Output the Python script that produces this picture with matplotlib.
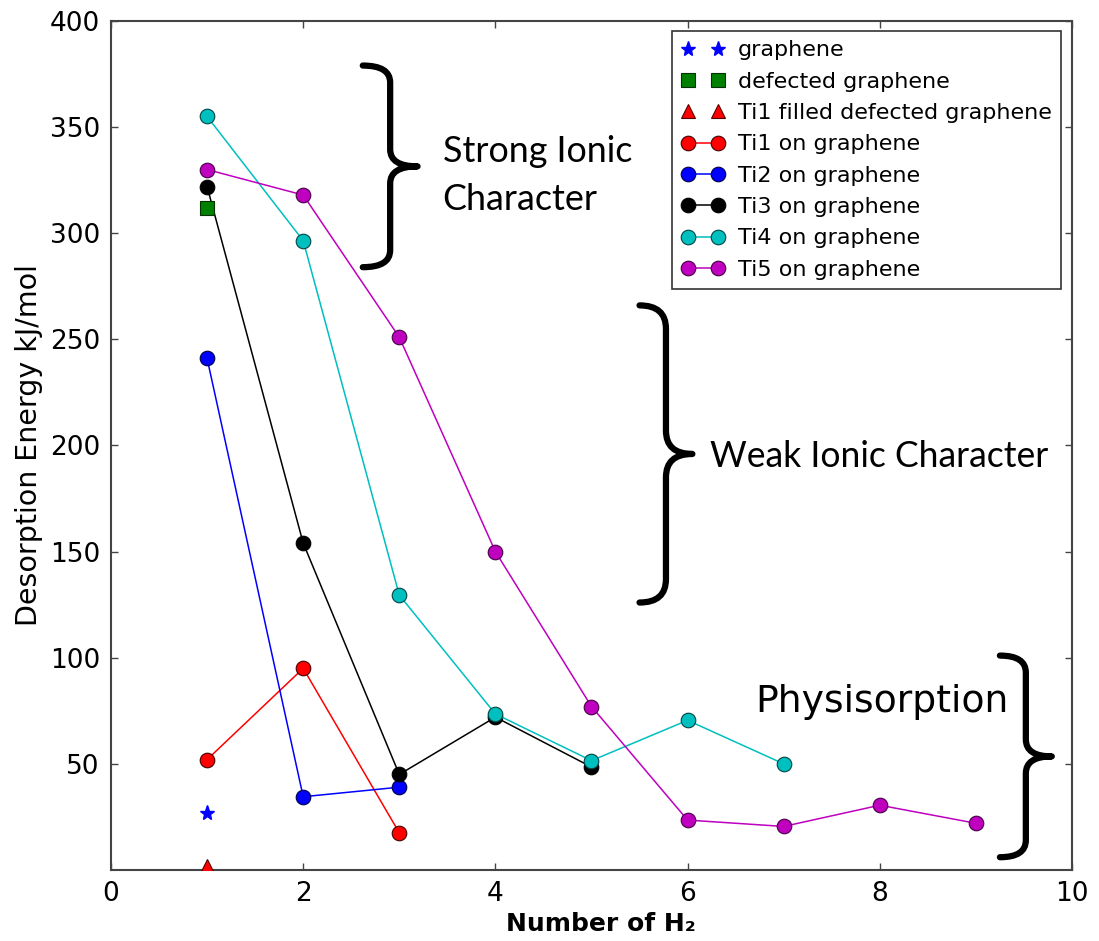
import numpy as np
import matplotlib.pyplot as plt
from matplotlib.path import Path
from matplotlib.patches import PathPatch

# data
n_h2_ti1 = [1, 2, 3]
e_ti1 = [52, 95, 17.5]
n_h2_ti2 = [1, 2, 3]
e_ti2 = [241, 34.5, 39]
n_h2_ti3 = [1, 2, 3, 4, 5]
e_ti3 = [322, 154, 45, 72, 48.5]
n_h2_ti4 = [1, 2, 3, 4, 5, 6, 7]
e_ti4 = [355, 296.5, 129.5, 73.5, 51.5, 70.5, 50]
n_h2_ti5 = [1, 2, 3, 4, 5, 6, 7, 8, 9]
e_ti5 = [330, 318, 251, 150, 77, 23.5, 20.5, 30.5, 22]

x_graphene = [1]
e_graphene = [27]
x_defected = [1]
e_defected = [312]
x_ti1_filled = [1]
e_ti1_filled = [2]


def brace(ax, x0, x1, y0, y1, r):
    # curly brace opening to the left, tip at x1
    xm = (x0 + x1) / 2.0
    ym = (y0 + y1) / 2.0
    verts = [(x0, y1), (xm, y1), (xm, y1 - r),
             (xm, ym + r),
             (xm, ym), (x1, ym),
             (xm, ym), (xm, ym - r),
             (xm, y0 + r),
             (xm, y0), (x0, y0)]
    codes = [Path.MOVETO, Path.CURVE3, Path.CURVE3,
             Path.LINETO,
             Path.CURVE3, Path.CURVE3,
             Path.CURVE3, Path.CURVE3,
             Path.LINETO,
             Path.CURVE3, Path.CURVE3]
    p = PathPatch(Path(verts, codes), fill=False, lw=4.5, color='k',
                  capstyle='round', joinstyle='round', clip_on=False)
    ax.add_patch(p)


fig = plt.figure(figsize=(10.99, 9.41), dpi=100)
ax = fig.add_axes([0.101, 0.0755, 0.8744, 0.9022])

ms = 10.5
ax.plot(x_graphene, e_graphene, '*', color='b', mec='b', ms=11, label='graphene', zorder=5)
ax.plot(x_defected, e_defected, 's', color='g', mec='#003300', ms=9.5, mew=0.8, label='defected graphene', zorder=5)
ax.plot(x_ti1_filled, e_ti1_filled, '^', color='r', mec='#550000', ms=10, mew=0.8, label='Ti1 filled defected graphene', zorder=5)
ax.plot(n_h2_ti1, e_ti1, 'o-', color='r', mec='#440000', ms=ms, mew=0.8, lw=1.1, label='Ti1 on graphene')
ax.plot(n_h2_ti2, e_ti2, 'o-', color='b', mec='#000044', ms=ms, mew=0.8, lw=1.1, label='Ti2 on graphene')
ax.plot(n_h2_ti3, e_ti3, 'o-', color='k', mec='k', ms=ms, mew=0.8, lw=1.1, label='Ti3 on graphene')
ax.plot(n_h2_ti4, e_ti4, 'o-', color='c', mec='#004444', ms=ms, mew=0.8, lw=1.1, label='Ti4 on graphene')
ax.plot(n_h2_ti5, e_ti5, 'o-', color='m', mec='#440044', ms=ms, mew=0.8, lw=1.1, label='Ti5 on graphene')

ax.set_xlim(0, 10)
ax.set_ylim(0, 400)
ax.set_xticks([0, 2, 4, 6, 8, 10])
ax.set_yticks([50, 100, 150, 200, 250, 300, 350, 400])
ax.tick_params(direction='in', top=True, right=True, length=5, width=1,
               color='#444444', labelsize=19, pad=8)
for s in ax.spines.values():
    s.set_color('#444444')
    s.set_linewidth(1.5)

ax.set_ylabel('Desorption Energy kJ/mol', fontsize=20.5, labelpad=5)
ax.set_xlabel('Number of H\u2082', fontsize=18, fontweight='bold')
ax.xaxis.set_label_coords(0.51, -0.049)

leg = ax.legend(loc='upper right', bbox_to_anchor=(0.9886, 0.9882), borderaxespad=0,
                numpoints=2, handlelength=1.95, fontsize=16, fancybox=False,
                framealpha=1, labelspacing=0.51, handletextpad=0.6, borderpad=0.42)
leg.get_frame().set_edgecolor('#333333')
leg.get_frame().set_linewidth(1.2)

# annotation braces
brace(ax, 2.62, 3.19, 284, 379, 8)
brace(ax, 5.50, 6.05, 126, 266, 11)
brace(ax, 9.25, 9.79, 6, 101, 8)

ax.text(3.45, 333.6, 'Strong Ionic', fontsize=25.8, family='Lato', va='baseline')
ax.text(3.45, 311, 'Character', fontsize=25.8, family='Lato', va='baseline')
ax.text(6.23, 189.9, 'Weak Ionic Character', fontsize=25.6, family='Lato', va='baseline')
ax.text(6.70, 74.4, 'Physisorption', fontsize=27.2, va='baseline')

fig.savefig('out.png', dpi=100)
